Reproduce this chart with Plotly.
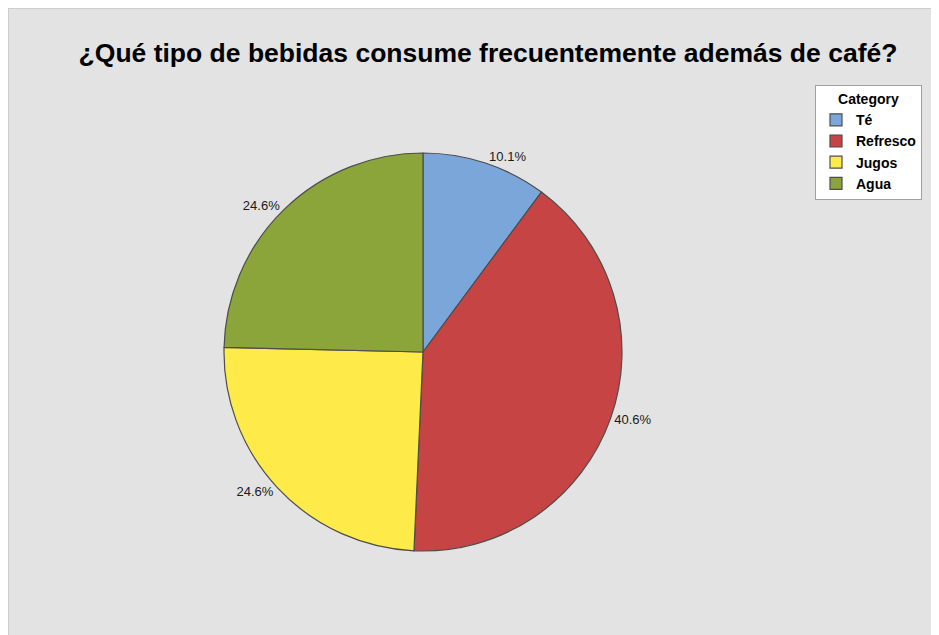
import plotly.graph_objects as go

# Survey answers: drinks consumed besides coffee (counts -> 138 answers)
categories = ["Té", "Refresco", "Jugos", "Agua"]
counts = [14, 56, 34, 34]
colors = ["#7BA6DA", "#C64544", "#FEEA48", "#8BA53A"]

# the page puts an 8px body margin round the figure, so the figure itself is the gray frame
W, H = 931, 627
OFF = 8


def px_x(x):
    return (x - OFF) / W


def px_y(y):
    return 1 - (y - OFF) / H


fig = go.Figure()

fig.add_trace(go.Pie(
    labels=[f"<b>{c}</b>" for c in categories],
    values=counts,
    sort=False,
    direction="clockwise",
    rotation=0,
    marker=dict(colors=colors, line=dict(color="#4d4d4d", width=1.2)),
    textposition="outside",
    texttemplate="%{percent:.1%}",
    textfont=dict(family="Liberation Sans", size=13, color="#1a1a1a"),
    domain=dict(x=[px_x(224), px_x(622)], y=[px_y(551), px_y(153)]),
    hoverinfo="label+percent",
))

# light border of the chart frame
fig.add_shape(type="rect", xref="paper", yref="paper",
              x0=0, x1=1.01, y0=-0.01, y1=1,
              line=dict(color="#cdcdcd", width=2), layer="below")

fig.update_layout(
    width=W, height=H,
    margin=dict(l=0, r=0, t=0, b=0),
    paper_bgcolor="#e3e3e3",
    plot_bgcolor="#e3e3e3",
    font=dict(family="Liberation Sans"),
    title=dict(text="<b>¿Qué tipo de bebidas consume frecuentemente además de café?</b>",
               x=px_x(488), xanchor="center", y=px_y(53), yanchor="middle",
               font=dict(family="Liberation Sans", size=26.5, color="black")),
    legend=dict(
        title=dict(text="<b>Category</b>", side="top center",
                   font=dict(family="Liberation Sans", size=14, color="black")),
        font=dict(family="Liberation Sans", size=14, color="black"),
        x=px_x(815), xanchor="left", y=px_y(85), yanchor="top",
        bgcolor="white", bordercolor="#a0a0a0", borderwidth=1,
        itemwidth=30, tracegroupgap=4,
    ),
)

fig.write_html("out.html")
